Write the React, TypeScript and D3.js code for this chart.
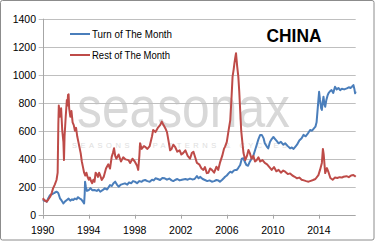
import React from "react";
import * as d3 from "d3";

const yTicks = [0, 200, 400, 600, 800, 1000, 1200, 1400];
const xTicks = [1990, 1994, 1998, 2002, 2006, 2010, 2014];
const seriesNames = ["Turn of The Month", "Rest of The Month"];
const title = "CHINA";

const restYears = [
  1990.0, 1990.2, 1990.35, 1990.5, 1990.65, 1990.8, 1990.9, 1991.05, 1991.2, 1991.3, 1991.36, 1991.4, 1991.5, 1991.6, 1991.7, 1991.8, 1991.85, 1991.9,
  1992.0, 1992.1, 1992.15, 1992.2, 1992.25, 1992.3, 1992.4, 1992.5, 1992.6, 1992.7, 1992.8, 1992.9, 1993.0, 1993.1, 1993.2, 1993.3, 1993.4, 1993.5,
  1993.6, 1993.7, 1993.8, 1993.9, 1994.0, 1994.1, 1994.2, 1994.3, 1994.4, 1994.5, 1994.6, 1994.7, 1994.8, 1994.9, 1995.0, 1995.13, 1995.3, 1995.5,
  1995.7, 1995.85, 1996.0, 1996.1, 1996.2, 1996.3, 1996.4, 1996.6, 1996.8, 1997.0, 1997.2, 1997.45, 1997.6, 1997.8, 1998.0, 1998.2, 1998.3, 1998.4,
  1998.46, 1998.6, 1998.8, 1998.9, 1999.1, 1999.3, 1999.5, 1999.6, 1999.8, 2000.0, 2000.2, 2000.35, 2000.5, 2000.7, 2000.8, 2000.95, 2001.07, 2001.2,
  2001.35, 2001.5, 2001.7, 2001.9, 2002.05, 2002.2, 2002.4, 2002.6, 2002.8, 2002.96, 2003.1, 2003.25, 2003.4, 2003.6, 2003.8, 2003.96, 2004.1, 2004.26,
  2004.4, 2004.55, 2004.7, 2004.9, 2005.1, 2005.25, 2005.4, 2005.6, 2005.75, 2005.85, 2006.0, 2006.15, 2006.3, 2006.4, 2006.5, 2006.6, 2006.66, 2006.75,
  2006.8, 2006.9, 2007.0, 2007.08, 2007.16, 2007.25, 2007.36, 2007.45, 2007.6, 2007.75, 2007.88, 2008.0, 2008.15, 2008.3, 2008.45, 2008.6, 2008.75, 2008.9,
  2009.1, 2009.3, 2009.5, 2009.7, 2009.9, 2010.1, 2010.3, 2010.5, 2010.7, 2010.9, 2011.07, 2011.3, 2011.5, 2011.7, 2011.9, 2012.1, 2012.3, 2012.5,
  2012.7, 2012.9, 2013.1, 2013.3, 2013.5, 2013.7, 2013.96, 2014.1, 2014.26, 2014.35, 2014.42, 2014.55, 2014.7, 2014.85, 2015.0, 2015.2, 2015.4, 2015.6,
  2015.8, 2016.0, 2016.14, 2016.4, 2016.6, 2016.8, 2017.0, 2017.1, 2017.2,
];
const restValues = [
  117, 100, 93, 110, 128, 160, 188, 215, 248, 300, 650, 780, 700, 760, 600, 520, 390, 560,
  700, 820, 780, 855, 860, 760, 700, 740, 660, 640, 600, 620, 560, 520, 480, 440, 380, 340,
  300, 280, 300, 270, 250, 265, 240, 225, 250, 235, 300, 290, 270, 300, 280, 248, 270, 330,
  360, 330, 415, 440, 475, 420, 400, 430, 380, 410, 395, 390, 370, 400, 380, 350, 320, 420,
  510, 470, 490, 485, 470, 490, 560, 605, 590, 620, 640, 665, 640, 610, 590, 520, 460, 470,
  500, 485, 450, 460, 430, 440, 460, 420, 400, 440, 450, 410, 370, 360, 330, 320, 340, 297,
  300, 330, 320, 300, 343, 320, 370, 420, 470, 486, 520, 600, 676, 820, 986, 1040, 1081, 1130,
  1153, 1060, 986, 880, 748, 600, 510, 440, 390, 420, 462, 440, 400, 420, 380, 390, 410, 380,
  390, 370, 360, 340, 320, 340, 310, 320, 300, 315, 307, 290, 295, 280, 271, 260, 265, 250,
  245, 240, 236, 242, 248, 255, 283, 320, 370, 470, 430, 297, 333, 300, 262, 250, 265, 262,
  268, 265, 271, 275, 268, 280, 283, 278, 271,
];

const turnYears = [
  1990.0, 1990.2, 1990.35, 1990.5, 1990.63, 1990.8, 1991.0, 1991.2, 1991.3, 1991.36, 1991.5, 1991.65, 1991.8, 1991.95, 1992.1, 1992.25, 1992.4, 1992.55,
  1992.66, 1992.8, 1992.95, 1993.05, 1993.2, 1993.35, 1993.5, 1993.6, 1993.65, 1993.68, 1993.75, 1993.85, 1994.0, 1994.15, 1994.3, 1994.5, 1994.7, 1994.85,
  1995.0, 1995.2, 1995.4, 1995.6, 1995.85, 1996.0, 1996.15, 1996.3, 1996.45, 1996.6, 1996.8, 1997.0, 1997.15, 1997.35, 1997.5, 1997.7, 1997.85, 1998.0,
  1998.2, 1998.4, 1998.6, 1998.75, 1998.9, 1999.1, 1999.3, 1999.5, 1999.65, 1999.8, 2000.0, 2000.2, 2000.4, 2000.6, 2000.8, 2001.0, 2001.2, 2001.35,
  2001.5, 2001.7, 2001.9, 2002.1, 2002.4, 2002.6, 2002.8, 2003.0, 2003.2, 2003.4, 2003.55, 2003.7, 2003.9, 2004.1, 2004.3, 2004.5, 2004.7, 2004.9,
  2005.1, 2005.25, 2005.4, 2005.6, 2005.75, 2005.85, 2006.0, 2006.15, 2006.3, 2006.45, 2006.6, 2006.75, 2006.87, 2007.0, 2007.16, 2007.3, 2007.44, 2007.55,
  2007.7, 2007.85, 2008.0, 2008.15, 2008.3, 2008.46, 2008.6, 2008.75, 2008.9, 2009.04, 2009.2, 2009.3, 2009.45, 2009.6, 2009.75, 2009.9, 2010.05, 2010.2,
  2010.35, 2010.5, 2010.7, 2010.9, 2011.07, 2011.3, 2011.5, 2011.65, 2011.8, 2012.0, 2012.1, 2012.3, 2012.5, 2012.66, 2012.85, 2013.0, 2013.24, 2013.4,
  2013.5, 2013.7, 2013.8, 2013.9, 2013.96, 2014.02, 2014.1, 2014.2, 2014.26, 2014.33, 2014.4, 2014.48, 2014.55, 2014.65, 2014.75, 2014.83, 2014.95, 2015.1,
  2015.25, 2015.4, 2015.55, 2015.7, 2015.85, 2016.0, 2016.2, 2016.43, 2016.6, 2016.75, 2016.87, 2017.0, 2017.08, 2017.15, 2017.2,
];
const turnValues = [
  105, 100, 93, 120, 140, 145, 155, 164, 160, 153, 117, 100, 81, 95, 105, 115, 100, 110,
  105, 115, 110, 125, 117, 110, 93, 80, 150, 236, 200, 170, 176, 190, 175, 176, 170, 180,
  164, 175, 188, 180, 212, 205, 225, 236, 215, 200, 215, 220, 224, 215, 230, 225, 240, 236,
  225, 240, 235, 245, 248, 240, 236, 250, 245, 260, 255, 248, 262, 260, 250, 258, 245, 240,
  248, 255, 245, 250, 255, 250, 258, 252, 255, 276, 260, 270, 255, 248, 240, 245, 236, 240,
  248, 245, 236, 250, 262, 271, 280, 295, 307, 300, 315, 320, 320, 335, 355, 400, 403, 380,
  355, 350, 379, 400, 420, 462, 500, 540, 570, 570, 545, 510, 490, 474, 520, 540, 555, 540,
  525, 510, 520, 500, 510, 490, 474, 480, 470, 490, 500, 530, 546, 570, 560, 575, 605, 600,
  610, 629, 660, 760, 820, 878, 820, 760, 748, 800, 843, 790, 771, 820, 850, 867, 880, 890,
  870, 914, 895, 905, 890, 900, 895, 902, 910, 905, 914, 926, 900, 867, 880,
];

const W = 375;
const H = 241;
const left = 42.7;
const right = 355.7;
const top = 18.7;
const bottom = 214.7;

export default function App() {
  const x = d3.scaleLinear().domain([1990, 2017.2]).range([left, right]);
  const y = d3.scaleLinear().domain([0, 1400]).range([bottom, top]);
  const line = d3
    .line<[number, number]>()
    .x((d) => x(d[0]))
    .y((d) => y(d[1]));
  const restData: [number, number][] = restYears.map((t, i) => [t, restValues[i]]);
  const turnData: [number, number][] = turnYears.map((t, i) => [t, turnValues[i]]);
  const blue = "#4A7EBB";
  const red = "#BE4B48";
  const font = "'Liberation Sans', Arial, sans-serif";
  const grid = "#bfbfbf";

  return (
    <svg
      width={W}
      height={H}
      style={{ position: "fixed", left: 0, top: 0, display: "block", background: "#fff" }}
      fontFamily={font}
    >
      <rect x={0.5} y={0.5} width={W - 1.5} height={H - 1.5} fill="#fff" stroke="#8c8c8c" strokeWidth={1} rx={2} />
      {/* watermark */}
      <g transform="translate(77,127) scale(1,1.45)">
        <text
          x={0}
          y={0}
          fontFamily="'Liberation Sans', sans-serif"
          fontSize={40}
          fill="#d8d8d8"
          textLength={213}
          lengthAdjust="spacingAndGlyphs"
        >
          seasonax
        </text>
      </g>
      <text
        x={72}
        y={148}
        fontSize={7.5}
        fill="#dedede"
        textLength={215}
        lengthAdjust="spacing"
      >
        SEASONS &amp; PATTERNS &amp; CYCLES
      </text>
      {/* gridlines */}
      {yTicks.map((v) => (
        <line
          key={v}
          x1={left - 4}
          x2={right}
          y1={Math.round(y(v)) + 0.5}
          y2={Math.round(y(v)) + 0.5}
          stroke={v === 0 ? "#a6a6a6" : grid}
          strokeWidth={1}
        />
      ))}
      <line x1={Math.round(left) + 0.5} x2={Math.round(left) + 0.5} y1={top} y2={bottom} stroke="#a6a6a6" />
      {xTicks.map((t) => (
        <line
          key={t}
          x1={Math.round(x(t)) + 0.5}
          x2={Math.round(x(t)) + 0.5}
          y1={bottom}
          y2={bottom + 4}
          stroke="#a6a6a6"
        />
      ))}
      {yTicks.map((v) => (
        <text key={v} x={36} y={y(v) + 3.8} fontSize={10.5} textAnchor="end" fill="#000">
          {v}
        </text>
      ))}
      {xTicks.map((t) => (
        <text key={t} x={x(t)} y={234} fontSize={10.5} textAnchor="middle" fill="#000">
          {t}
        </text>
      ))}
      <path d={line(turnData) || ""} fill="none" stroke={blue} strokeWidth={2} strokeLinejoin="round" />
      <path d={line(restData) || ""} fill="none" stroke={red} strokeWidth={2} strokeLinejoin="round" />
      {/* legend */}
      <line x1={70} x2={90} y1={34} y2={34} stroke={blue} strokeWidth={2} />
      <text x={92} y={37.8} fontSize={10.5} fill="#000" textLength={80} lengthAdjust="spacingAndGlyphs">
        {seriesNames[0]}
      </text>
      <line x1={70} x2={90} y1={55} y2={55} stroke={red} strokeWidth={2} />
      <text x={92} y={58.8} fontSize={10.5} fill="#000" textLength={78} lengthAdjust="spacingAndGlyphs">
        {seriesNames[1]}
      </text>
      <text x={266.5} y={41.7} fontSize={19} fontWeight="bold" fill="#000" textLength={55} lengthAdjust="spacingAndGlyphs">
        {title}
      </text>
    </svg>
  );
}
